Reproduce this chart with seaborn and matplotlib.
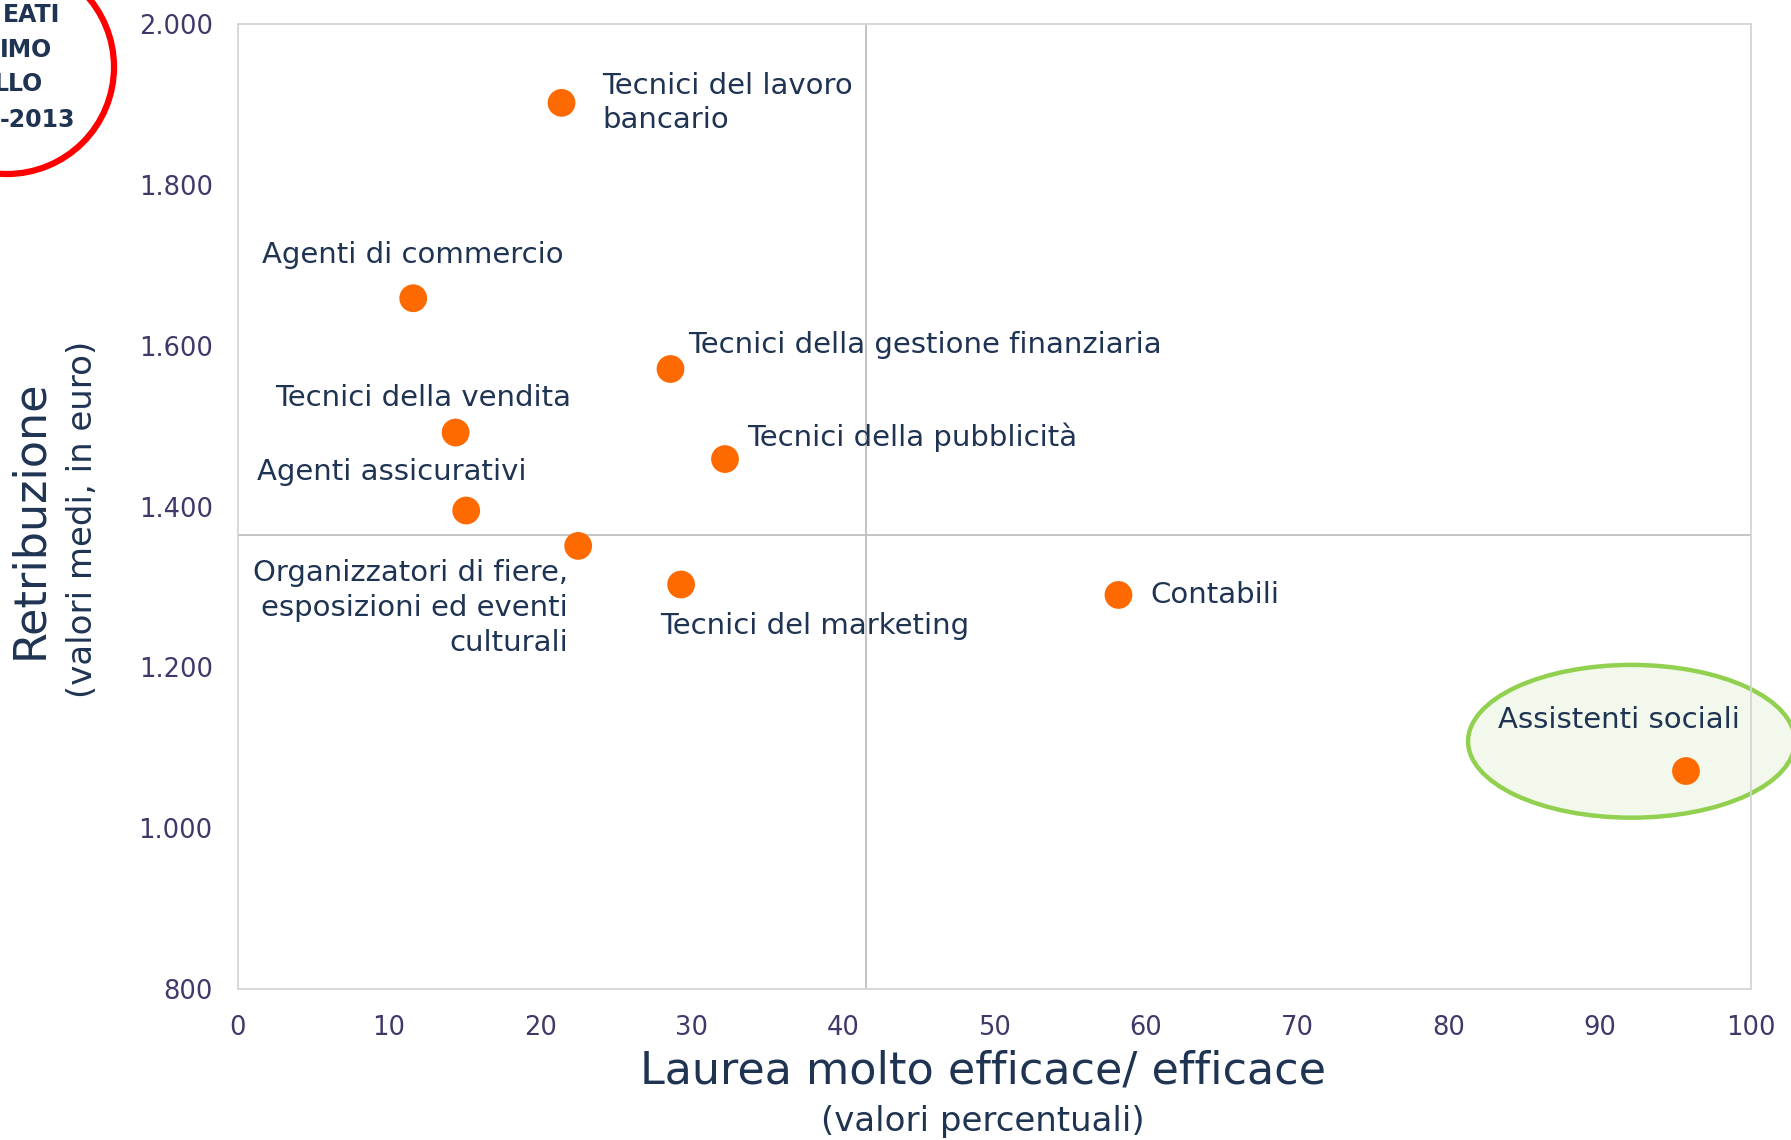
import matplotlib.pyplot as plt
import seaborn as sns
import pandas as pd
from matplotlib.patches import Ellipse
from matplotlib.ticker import FuncFormatter

# dati
professioni = ["Tecnici del lavoro\nbancario", "Agenti di commercio",
               "Tecnici della gestione finanziaria", "Tecnici della vendita",
               "Tecnici della pubblicità", "Agenti assicurativi",
               "Organizzatori di fiere,\nesposizioni ed eventi\nculturali",
               "Tecnici del marketing", "Contabili", "Assistenti sociali"]
laurea_efficace = [21.4, 11.6, 28.6, 14.4, 32.2, 15.1, 22.5, 29.3, 58.2, 95.7]
retribuzione = [1902, 1659, 1571, 1492, 1459, 1395, 1351, 1303, 1290, 1071]
media_efficace = 41.5
media_retribuzione = 1365

x_ticks = list(range(0, 101, 10))
y_ticks = list(range(800, 2001, 200))

# dove mettere le etichette (offset in pixel dal punto)
offsets = [(41, 0), (0, 43), (18, 24), (-32, 35), (22, 22), (-74, 39),
           (-10, -62), (134, -42), (32, 0), (-67, 51)]
allinea = ["left", "center", "left", "center", "left", "center",
           "right", "center", "left", "center"]

df = pd.DataFrame({"prof": professioni, "x": laurea_efficace, "y": retribuzione})

sns.set_theme(style="white")
plt.rcParams['font.family'] = ['DejaVu Sans']

navy = "#1F3352"
tick_col = "#3F3868"

fig = plt.figure(figsize=(17.91, 11.40), dpi=100)
ax = fig.add_axes([0.1327, 0.1325, 0.9777 - 0.1327, 0.9789 - 0.1325])

# ellisse verde dietro al punto degli assistenti sociali
ell = Ellipse((92.1, 1108), 21.6, 190, facecolor="#F2F8EC", edgecolor="#92D050",
              lw=3.2, clip_on=False, zorder=1)
ax.add_patch(ell)

ax.axvline(media_efficace, color="#BFBFBF", lw=1.3, zorder=1.5)
ax.axhline(media_retribuzione, color="#BFBFBF", lw=1.3, zorder=1.5)

sns.scatterplot(data=df, x="x", y="y", ax=ax, s=400, color="#FF6A00",
                edgecolor="none", zorder=3, legend=False)

for i, row in df.iterrows():
    ax.annotate(row["prof"], (row["x"], row["y"]), xytext=offsets[i],
                textcoords="offset pixels", ha=allinea[i], va="center",
                multialignment=allinea[i], fontsize=21, color=navy,
                linespacing=1.3, zorder=4)

ax.set_xlim(0, 100)
ax.set_ylim(800, 2000)
ax.set_xticks(x_ticks)
ax.set_yticks(y_ticks)
ax.yaxis.set_major_formatter(FuncFormatter(lambda v, p: f"{int(v):,}".replace(",", ".")))
ax.tick_params(axis="both", length=0, labelsize=18.5, colors=tick_col)
ax.tick_params(axis="y", pad=18)
ax.tick_params(axis="x", pad=19)
for s in ax.spines.values():
    s.set_color("#D4D4D4")
    s.set_linewidth(1.3)
ax.set_xlabel("")
ax.set_ylabel("")

fig.text(0.549, 1 - 1071 / 1140, "Laurea molto efficace/ efficace", ha="center",
         va="center", fontsize=32, color=navy)
fig.text(0.549, 1 - 1121 / 1140, "(valori percentuali)", ha="center",
         va="center", fontsize=24.5, color=navy)
fig.text(30 / 1791, 1 - 519 / 1140, "Retribuzione", rotation=90, ha="center",
         va="center", fontsize=32, color=navy)
fig.text(83 / 1791, 1 - 519 / 1140, "(valori medi, in euro)", rotation=90,
         ha="center", va="center", fontsize=24.5, color=navy)

# cerchio rosso tagliato in alto a sinistra
cerchio = Ellipse((7 / 1791, 1 - 67 / 1140), 214 / 1791, 214 / 1140,
                  transform=fig.transFigure, facecolor="none", edgecolor="#FF0000",
                  lw=4.5, clip_on=False)
fig.add_artist(cerchio)
for testo, xr, yc in [("EATI", 60, 15), ("IMO", 52, 50), ("LLO", 43, 84), ("-2013", 75, 120)]:
    fig.text(xr / 1791, 1 - yc / 1140, testo, ha="right", va="center",
             fontsize=17, fontweight="bold", color="#1F3352")

fig.savefig("out.png", dpi=100)
